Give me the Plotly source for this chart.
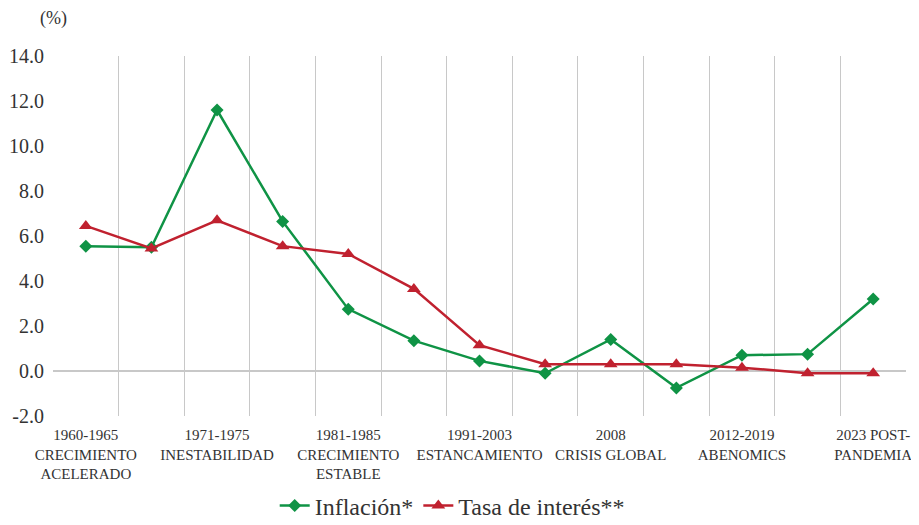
import plotly.graph_objects as go

x_idx = list(range(13))
tick_labels = [
    "1960-1965<br>CRECIMIENTO<br>ACELERADO", "",
    "1971-1975<br>INESTABILIDAD", "",
    "1981-1985<br>CRECIMIENTO<br>ESTABLE", "",
    "1991-2003<br>ESTANCAMIENTO", "",
    "2008<br>CRISIS GLOBAL", "",
    "2012-2019<br>ABENOMICS", "",
    "2023 POST-<br>PANDEMIA",
]
inflacion = [5.55, 5.5, 11.6, 6.65, 2.75, 1.35, 0.45, -0.1, 1.4, -0.75, 0.7, 0.75, 3.2]
tasa = [6.45, 5.45, 6.7, 5.55, 5.2, 3.65, 1.15, 0.3, 0.3, 0.3, 0.15, -0.1, -0.1]

GREEN = "#0f9345"
RED = "#c0212f"
FONT = "'Liberation Serif', serif"
TXT = "#333333"

fig = go.Figure()
fig.add_trace(go.Scatter(
    x=x_idx, y=inflacion, name="Inflación*", mode="lines+markers",
    line=dict(color=GREEN, width=2.5),
    marker=dict(symbol="diamond", size=10, color=GREEN),
))
fig.add_trace(go.Scatter(
    x=x_idx, y=tasa, name="Tasa de interés**", mode="lines+markers",
    line=dict(color=RED, width=2.5),
    marker=dict(symbol="triangle-up", size=12, color=RED),
))

# page body has an 8px margin, so the figure is drawn 8px smaller
fig.update_layout(
    width=911, height=517,
    margin=dict(l=45, r=13, t=48, b=109, autoexpand=False),
    paper_bgcolor="white", plot_bgcolor="white",
    font=dict(family=FONT, color=TXT),
    showlegend=True,
    legend=dict(orientation="h", x=0.468, xanchor="center", y=-0.25, yanchor="middle",
                font=dict(size=24, family=FONT, color=TXT),
                itemwidth=30, tracegroupgap=0),
    xaxis=dict(
        range=[-0.5, 12.5], tickmode="array", tickvals=x_idx, ticktext=tick_labels,
        showgrid=False, zeroline=False, showline=False, ticks="", automargin=False,
        ticklabelstandoff=8,
        tickfont=dict(size=15, family=FONT, color=TXT),
        minor=dict(tickmode="array", tickvals=[i - 0.5 for i in range(14)],
                   showgrid=True, gridcolor="#c8c8c8", gridwidth=1.3, ticks=""),
    ),
    yaxis=dict(
        range=[-2, 14], tickmode="array", tickvals=[-2, 0, 2, 4, 6, 8, 10, 12, 14],
        ticktext=["-2.0", "0.0", "2.0", "4.0", "6.0", "8.0", "10.0", "12.0", "14.0"],
        showgrid=False, zeroline=True, zerolinecolor="#c8c8c8", zerolinewidth=1.5,
        showline=False, ticks="", ticklabelstandoff=8, automargin=False,
        tickfont=dict(size=20, family=FONT, color=TXT),
    ),
    annotations=[dict(text="(%)", xref="paper", yref="paper", x=0.0, y=1.103,
                      xanchor="center", yanchor="middle", showarrow=False,
                      font=dict(size=18, family=FONT, color=TXT))],
)

fig.write_html("out.html")
